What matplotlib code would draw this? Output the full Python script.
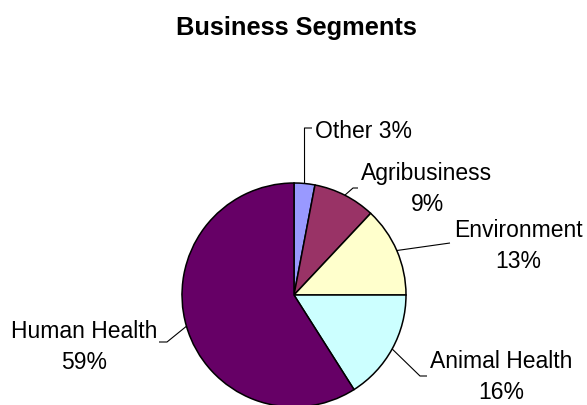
import numpy as np
import matplotlib.pyplot as plt

W, H = 587, 406

segments = ["Other", "Agribusiness", "Environment", "Animal Health", "Human Health"]
shares = [3, 9, 13, 16, 59]
colors = ["#9999FF", "#993366", "#FFFFCC", "#CCFFFF", "#660066"]

# label layout in pixels from the top-left corner:
# (text x, text y, elbow point, leader end point, single line?)
label_layout = [
    (315, 131, (304.5, 129), (312, 129), True),
    (427, 174, (353, 189), (358, 189), False),
    (518, 231, (450, 244), (450, 244), False),
    (501, 362, (420, 377), (427, 377), False),
    (84, 332, (167, 343), (159, 343), False),
]

cx, cy, radius = 294, 296, 112


def up(y):
    # pixel rows are counted from the top, the axes from the bottom
    return H - y


plt.rcParams["font.family"] = ["Liberation Sans", "DejaVu Sans"]

fig = plt.figure(figsize=(W / 100, H / 100), dpi=100)
ax = fig.add_axes([0, 0, 1, 1])

wedges, _ = ax.pie(shares, colors=colors, startangle=90, counterclock=False,
                   center=(cx, up(cy)), radius=radius, frame=True,
                   wedgeprops=dict(edgecolor="black", linewidth=1.1))
ax.set_xlim(0, W)
ax.set_ylim(0, H)
ax.axis("off")

for wedge, name, pct, (tx, ty, elbow, end, single) in zip(
        wedges, segments, shares, label_layout):
    mid = np.deg2rad((wedge.theta1 + wedge.theta2) / 2)
    ex = cx + radius * np.cos(mid)
    ey = up(cy) + radius * np.sin(mid)
    ax.plot([ex, elbow[0], end[0]], [ey, up(elbow[1]), up(end[1])],
            color="black", linewidth=0.8, solid_capstyle="butt")
    if single:
        ax.text(tx, up(ty), f"{name} {pct}%", fontsize=16.5,
                ha="left", va="center")
    else:
        ax.text(tx, up(ty), name, fontsize=16.5, ha="center", va="center")
        ax.text(tx, up(ty + 31), f"{pct}%", fontsize=16.5,
                ha="center", va="center")

fig.text(296 / W, up(28) / H, "Business Segments", fontsize=18.3,
         fontweight="bold", ha="center", va="center")

fig.savefig("out.png", dpi=100)
